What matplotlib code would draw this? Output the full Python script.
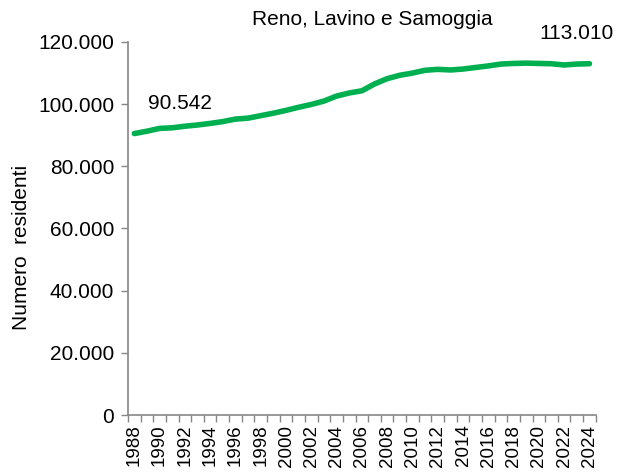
import matplotlib
matplotlib.use("Agg")
import matplotlib.pyplot as plt
from matplotlib.ticker import FuncFormatter

# Residents by year
years = list(range(1988, 2025))
residents = [90542, 91300, 92200, 92400, 92900, 93300, 93800, 94400, 95200, 95500,
             96300, 97100, 98000, 99000, 99900, 101000, 102600, 103600, 104300, 106500,
             108200, 109300, 110000, 110900, 111200, 111000, 111300, 111800, 112300, 112900,
             113100, 113200, 113100, 113000, 112600, 112900, 113010]
title = "Reno, Lavino e Samoggia"
ylabel = "Numero  residenti"

plt.rcParams['font.family'] = ['Liberation Sans', 'DejaVu Sans']

fig = plt.figure(figsize=(6.22, 4.75), dpi=100)
ax = fig.add_axes([0.2058, 0.1263, 0.752, 0.7853])

x = list(range(len(years)))
ax.plot(x, residents, color='#00B050', linewidth=4, solid_capstyle='round')

def thousands(v, pos):
    return f"{int(v):,}".replace(",", ".")

ax.set_ylim(0, 120000)
ax.set_yticks(range(0, 120001, 20000))
ax.yaxis.set_major_formatter(FuncFormatter(thousands))
ax.set_xlim(-0.5, len(years) - 0.5)

# year labels every 2 years, tick marks on category borders
ax.set_xticks(x[::2])
ax.set_xticklabels([str(y) for y in years[::2]], rotation=90)
ax.set_xticks([i - 0.5 for i in range(len(years) + 1)], minor=True)
ax.tick_params(axis='x', which='major', length=0, labelsize=13.5, pad=7)
ax.tick_params(axis='x', which='minor', length=5, color='#868686', width=1)
ax.tick_params(axis='y', length=5, color='#868686', width=1, labelsize=15, pad=5)

for s in ['top', 'right']:
    ax.spines[s].set_visible(False)
for s in ['left', 'bottom']:
    ax.spines[s].set_color('#868686')
    ax.spines[s].set_linewidth(1.2)

ax.set_ylabel(ylabel, fontsize=15)
ax.yaxis.set_label_coords(-0.208, 0.45)

ax.annotate(thousands(residents[0], None), (x[0], residents[0]),
            xytext=(10, 15), textcoords='offset points', fontsize=15, ha='left', va='bottom')
ax.annotate(thousands(residents[-1], None), (x[-1], residents[-1]),
            xytext=(-9, 15), textcoords='offset points', fontsize=15, ha='center', va='bottom')

fig.text(0.598, 0.958, title, fontsize=15, ha='center', va='center')

fig.savefig("out.png", dpi=100)
